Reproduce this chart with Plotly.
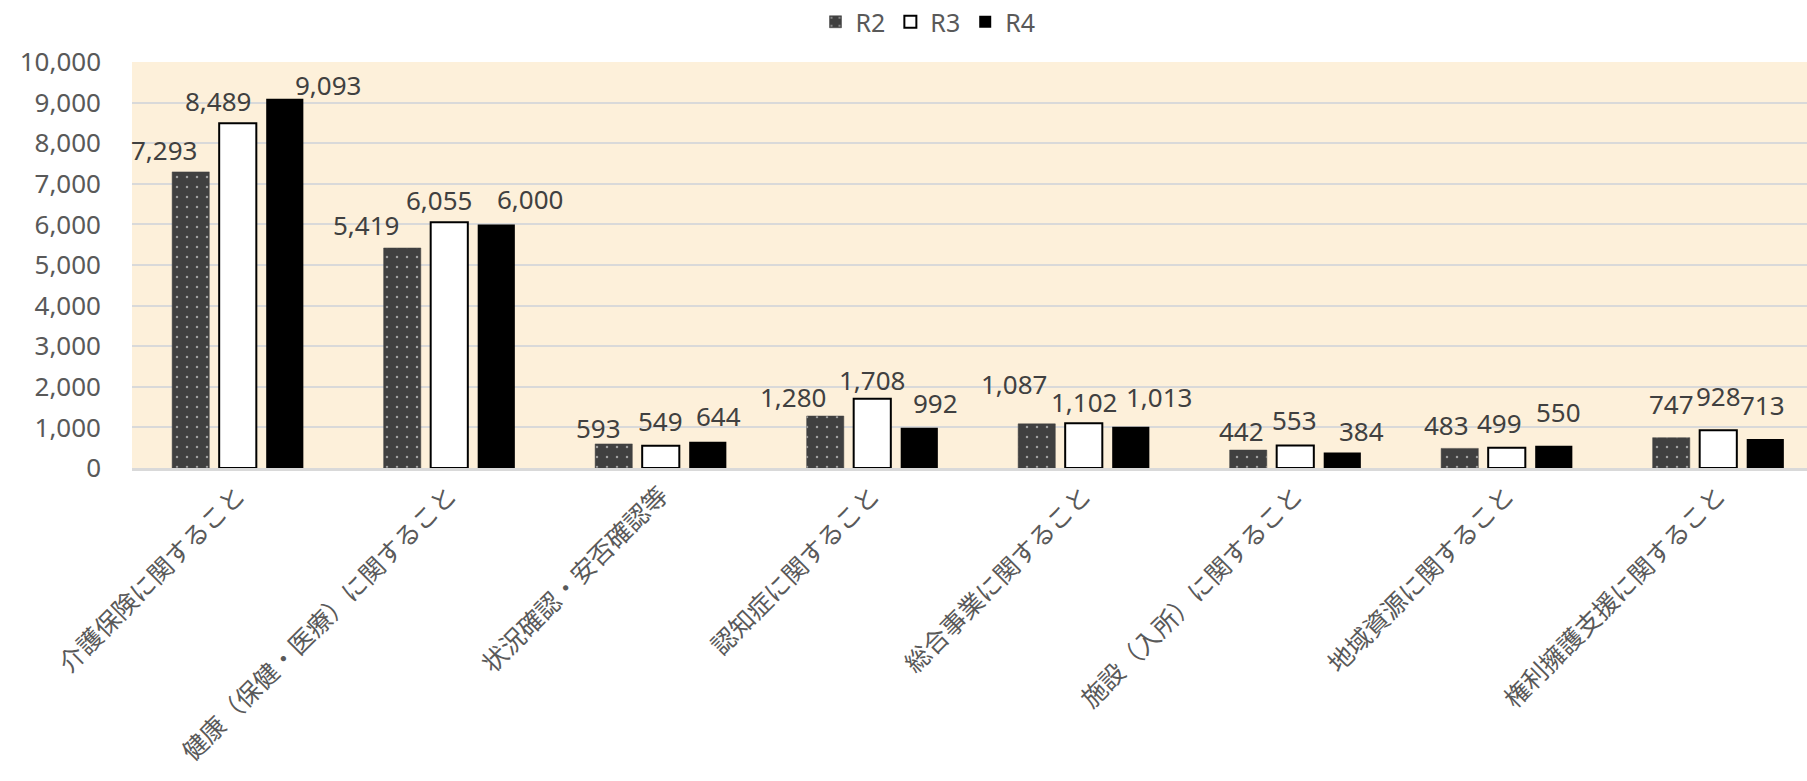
import plotly.graph_objects as go

# 相談内容別件数（R2〜R4）
categories = [
    "介護保険に関すること",
    "健康（保健・医療）に関すること",
    "状況確認・安否確認等",
    "認知症に関すること",
    "総合事業に関すること",
    "施設（入所）に関すること",
    "地域資源に関すること",
    "権利擁護支援に関すること",
]
r2 = [7293, 5419, 593, 1280, 1087, 442, 483, 747]
r3 = [8489, 6055, 549, 1708, 1102, 553, 499, 928]
r4 = [9093, 6000, 644, 992, 1013, 384, 550, 713]
series_names = ["R2", "R3", "R4"]
y_tick_values = list(range(0, 10001, 1000))

# data-label nudges in px (horizontal shift from bar centre, gap above bar top)
label_dx = [
    [-27, -36, -15, -32, -23, -7, -13, 0],
    [-20, -10, 0, 0, 0, -1, -7, 0],
    [43, 34, 11, 16, 28, 19, 5, -3],
]
label_gap = [
    [10, 11, 4, 7, 28, 7, 11, 22],
    [10, 10, 13, 7, 9, 14, 13, 22],
    [2, 13, 14, 13, 18, 9, 22, 22],
]

NUM_FONT = "Noto Sans"
JP_FONT = "Noto Sans CJK JP"
TEXT_GREY = "#595959"
LABEL_GREY = "#404040"
GRID = "#d9d9d9"
PLOT_BG = "#fdf0da"

BARGAP = 0.333
BARGROUPGAP = 0.21

styles = [
    dict(color="#404040", line=dict(color="#404040", width=0.5),
         pattern=dict(shape=".", bgcolor="#404040", fgcolor="#ffffff",
                      size=10, solidity=0.05)),
    dict(color="#ffffff", line=dict(color="#000000", width=2)),
    dict(color="#000000", line=dict(color="#000000", width=0)),
]

fig = go.Figure()
all_values = [r2, r3, r4]
for name, vals, st in zip(series_names, all_values, styles):
    fig.add_trace(go.Bar(name=name, x=categories, y=vals, marker=st,
                         hoverinfo="x+y+name"))

# value labels placed beside/above each bar
slot = (1 - BARGAP) / 3
annotations = []
for k, vals in enumerate(all_values):
    for i, v in enumerate(vals):
        annotations.append(dict(
            x=i + (k - 1) * slot, y=v, xref="x", yref="y",
            text=f"{v:,}", showarrow=False,
            xanchor="center", yanchor="bottom",
            xshift=label_dx[k][i], yshift=label_gap[k][i] - 8,
            font=dict(family=NUM_FONT, size=26, color=LABEL_GREY),
        ))

W, H = 1807, 781
left, top, base = 132, 62, 468
band = 211.5
n_visible = (W - left) / band

fig.update_layout(
    width=W, height=H, autosize=False,
    margin=dict(l=left, r=0, t=top, b=H - base, pad=0, autoexpand=False),
    paper_bgcolor="#ffffff",
    plot_bgcolor=PLOT_BG,
    barmode="group",
    bargap=BARGAP,
    bargroupgap=BARGROUPGAP,
    annotations=annotations,
    showlegend=True,
    legend=dict(
        orientation="h", x=928 / W, xanchor="center", xref="container",
        y=1 - 22 / H, yanchor="middle", yref="container",
        font=dict(family=NUM_FONT, size=25, color=TEXT_GREY),
        itemwidth=30, traceorder="normal",
        bgcolor="rgba(0,0,0,0)",
    ),
    xaxis=dict(
        type="category",
        range=[-0.5, -0.5 + n_visible],
        tickangle=-45,
        tickfont=dict(family=JP_FONT, size=25, color=TEXT_GREY),
        showgrid=False, zeroline=False,
        showline=True, linecolor=GRID, linewidth=3,
        ticks="", ticklabelstandoff=0,
        automargin=False,
        fixedrange=True,
    ),
    yaxis=dict(
        range=[0, 10000],
        tickvals=y_tick_values,
        tickformat=",",
        tickfont=dict(family=NUM_FONT, size=26, color=TEXT_GREY),
        showgrid=True, gridcolor=GRID, gridwidth=2,
        zeroline=False, showline=False,
        ticks="", ticklabelstandoff=30,
        automargin=False,
        fixedrange=True,
    ),
)

fig.write_html("out.html")
